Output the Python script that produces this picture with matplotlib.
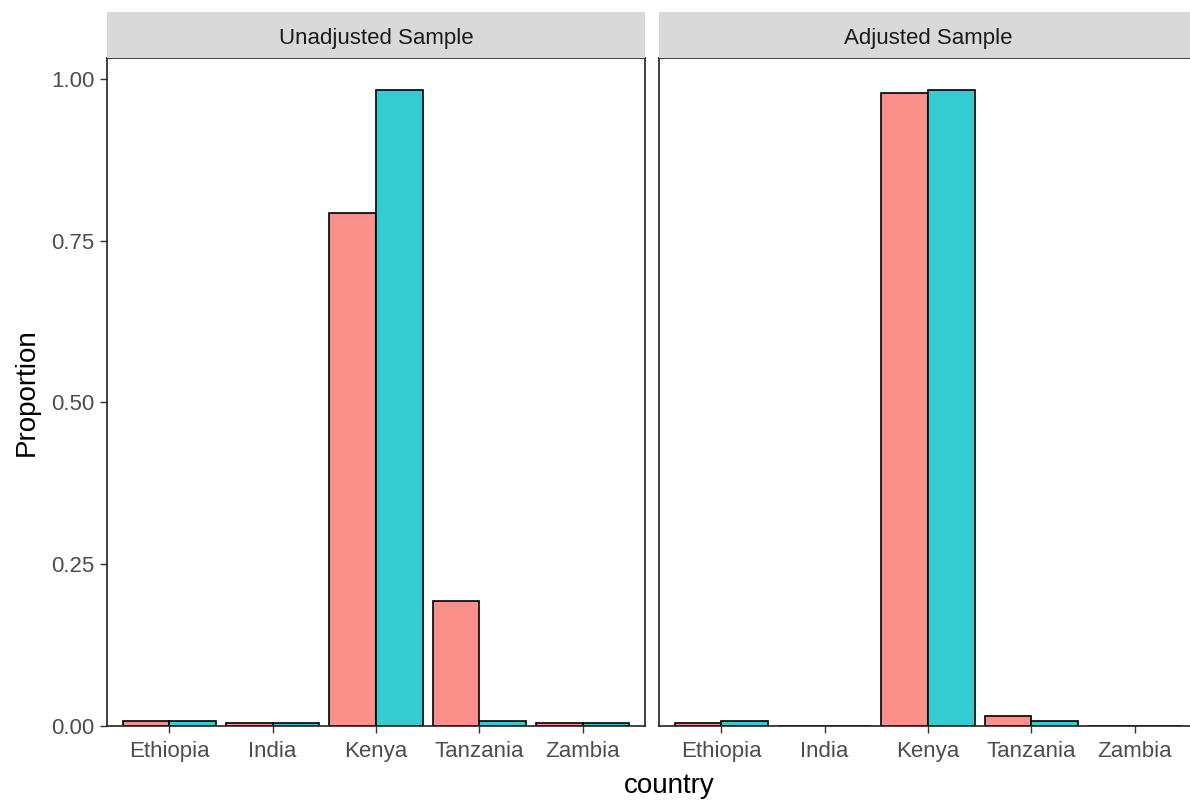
import matplotlib
matplotlib.use('Agg')
import matplotlib.pyplot as plt
import numpy as np

plt.rcParams['font.family'] = ['Liberation Sans', 'DejaVu Sans']

countries = ['Ethiopia', 'India', 'Kenya', 'Tanzania', 'Zambia']
panels = ['Unadjusted Sample', 'Adjusted Sample']

# proportion per country, first group (red) and second group (teal)
unadj_red = [0.007, 0.005, 0.793, 0.193, 0.005]
unadj_teal = [0.007, 0.005, 0.983, 0.007, 0.005]
adj_red = [0.005, 0.0, 0.978, 0.015, 0.0]
adj_teal = [0.007, 0.0, 0.983, 0.007, 0.0]

red = '#F9918A'
teal = '#33CCD0'
W, H = 1190, 801

fig = plt.figure(figsize=(W / 100, H / 100), dpi=100)


def px(x0, y0, x1, y1):
    # pixel box -> figure fraction rect
    return [x0 / W, 1 - y1 / H, (x1 - x0) / W, (y1 - y0) / H]


boxes = [(107, 645), (659, 1197)]
data = [(unadj_red, unadj_teal), (adj_red, adj_teal)]
x = np.arange(1, len(countries) + 1)

for i, ((x0, x1), (r, t), title) in enumerate(zip(boxes, data, panels)):
    ax = fig.add_axes(px(x0, 58, x1, 726))
    ax.bar(x - 0.225, r, width=0.45, color=red, edgecolor='black', linewidth=1.2)
    ax.bar(x + 0.225, t, width=0.45, color=teal, edgecolor='black', linewidth=1.2)
    ax.set_xlim(0.4, 5.6)
    ax.set_ylim(0, 1.032)
    ax.set_xticks(x)
    ax.set_xticklabels(countries)
    ax.tick_params(axis='both', colors='#333333', labelcolor='#4D4D4D',
                   labelsize=16, length=5, width=1.0, pad=4)
    ax.tick_params(axis='x', pad=6)
    if i == 0:
        ax.set_yticks([0, 0.25, 0.5, 0.75, 1.0])
        ax.set_yticklabels(['0.00', '0.25', '0.50', '0.75', '1.00'])
        ax.set_ylabel('Proportion', fontsize=20, labelpad=8)
    else:
        ax.set_yticks([])
    for s in ax.spines.values():
        s.set_color('#222222')
        s.set_linewidth(1.2)

    strip = fig.add_axes(px(x0, 12, x1, 58))
    strip.set_facecolor('#D9D9D9')
    strip.set_xticks([])
    strip.set_yticks([])
    for s in strip.spines.values():
        s.set_visible(False)
    strip.text(0.5, 0.42, title, ha='center', va='center', fontsize=16,
               color='#1A1A1A', transform=strip.transAxes)

fig.text(669 / W, 1 - 786 / H, 'country', ha='center', va='center', fontsize=20)

fig.savefig('out.png', dpi=100)
